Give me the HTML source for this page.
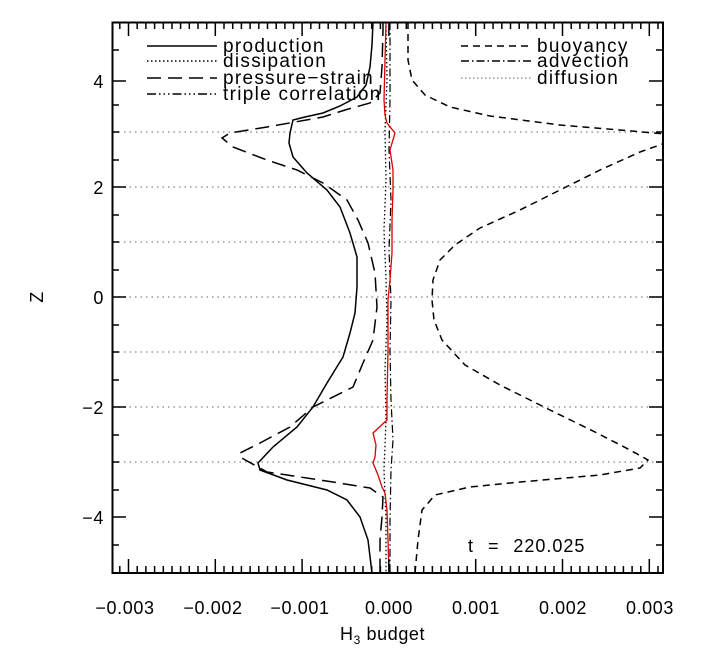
<!DOCTYPE html>
<html><head><meta charset="utf-8"><style>
body{margin:0;background:#fff}
svg{display:block;font-family:"Liberation Sans",sans-serif}
</style></head><body>
<svg width="722" height="649" viewBox="0 0 722 649" xmlns="http://www.w3.org/2000/svg">
<defs><clipPath id="c"><rect x="112" y="22" width="551" height="551"/></clipPath></defs>
<g stroke="#999" stroke-width="1.5" stroke-dasharray="1.5,4">
<line x1="113" x2="662" y1="132" y2="132"/><line x1="113" x2="662" y1="187" y2="187"/>
<line x1="113" x2="662" y1="242" y2="242"/><line x1="113" x2="662" y1="297" y2="297"/>
<line x1="113" x2="662" y1="352" y2="352"/><line x1="113" x2="662" y1="407" y2="407"/>
<line x1="113" x2="662" y1="462" y2="462"/>
</g>
<g clip-path="url(#c)" fill="none" stroke="#000" stroke-width="1.5">
<polyline points="373,22 372,45 370,67 366,85 357,97 340,106 323,113 305,117 293,120 290,133 289,143 293,157 307,173 327,190 340,207 350,233 357,257 357,287 355,313 350,333 343,357 327,383 313,407 297,427 273,447 258,463 260,470 287,480 327,490 347,500 360,517 368,540 372,573"/>
<polyline stroke-dasharray="14,7" points="383,22 383,30 382,67 380,93 370,103 345,110 323,117 295,122 267,127 230,133 222,138 233,147 267,160 297,170 323,183 347,200 358,220 368,243 375,273 377,307 373,340 363,363 353,387 327,400 313,407 290,427 260,443 240,453 240,457 267,472 333,482 370,488 383,497 382,517 380,540 380,573"/>
<polyline stroke-dasharray="7,5" points="408,22 408,60 412,80 425,95 450,107 490,116 560,125 620,130 665,134"/>
<polyline stroke-dasharray="7,5" points="668,142 640,152 600,170 560,190 520,210 480,228 455,245 440,260 433,280 432,300 434,320 442,340 465,365 500,385 550,410 595,432 630,450 648,460 640,468 600,475 520,482 470,487 435,495 422,510 418,540 415,573"/>
<polyline stroke-width="1.3" stroke-dasharray="1.5,2.5" points="386,22 387,80 385,130 386,180 384,230 386,280 387,320 385,370 386,420 384,470 386,520 386,573"/>
<polyline stroke-width="1.2" stroke-dasharray="8,3,1.5,3" points="390,22 390,100 389,150 391,200 389,250 391,300 390,350 391,400 393,440 391,470 390,520 390,573"/>
<polyline stroke="#d00" stroke-width="1.3" points="386,22 385,60 384,100 385,115 387,123 395,133 390,150 393,170 393,190 392,220 392,253 390,280 388,300 388,350 387,400 387,420 373,433 376,445 375,457 373,463 378,475 382,487 385,493 387,510 388,540 389,573"/>
</g>
<rect x="112.5" y="22.5" width="550.5" height="550.5" fill="none" stroke="#000" stroke-width="2"/>
<g stroke="#000" stroke-width="1.5" id="ticks">
<path d="M128.5,573v-14M215.3,573v-14M302.1,573v-14M388.9,573v-14M475.7,573v-14M562.5,573v-14M649.3,573v-14
M128.5,22v14M215.3,22v14M302.1,22v14M388.9,22v14M475.7,22v14M562.5,22v14M649.3,22v14"/>
<path id="mb" d="M119.8,573v-7M137.2,573v-7M145.9,573v-7M154.6,573v-7M163.3,573v-7M172,573v-7M180.6,573v-7M189.3,573v-7M198,573v-7M206.7,573v-7M224,573v-7M232.7,573v-7M241.4,573v-7M250.1,573v-7M258.8,573v-7M267.5,573v-7M276.2,573v-7M284.9,573v-7M293.6,573v-7M310.8,573v-7M319.5,573v-7M328.2,573v-7M336.9,573v-7M345.6,573v-7M354.3,573v-7M363,573v-7M371.7,573v-7M380.4,573v-7M397.6,573v-7M406.3,573v-7M415,573v-7M423.7,573v-7M432.4,573v-7M441.1,573v-7M449.8,573v-7M458.5,573v-7M467.2,573v-7M484.4,573v-7M493.1,573v-7M501.8,573v-7M510.5,573v-7M519.2,573v-7M527.9,573v-7M536.6,573v-7M545.3,573v-7M554,573v-7M571.2,573v-7M579.9,573v-7M588.6,573v-7M597.3,573v-7M606,573v-7M614.7,573v-7M623.4,573v-7M632.1,573v-7M640.8,573v-7M658,573v-7"/>
<use href="#mb" transform="translate(0,595) scale(1,-1)"/>
<path d="M112,81h14M112,187h14M112,297h14M112,407h14M112,517h14M663,81h-14M663,187h-14M663,297h-14M663,407h-14M663,517h-14
M112,50h7M112,105h7M112,132h7M112,160h7M112,215h7M112,242h7M112,270h7M112,325h7M112,352h7M112,380h7M112,435h7M112,462h7M112,490h7M112,545h7
M663,50h-7M663,105h-7M663,132h-7M663,160h-7M663,215h-7M663,242h-7M663,270h-7M663,325h-7M663,352h-7M663,380h-7M663,435h-7M663,462h-7M663,490h-7M663,545h-7"/>
</g>
<g font-size="18" fill="#000" letter-spacing="0.6">
<g text-anchor="end"><text x="104" y="88">4</text><text x="104" y="194">2</text><text x="104" y="304">0</text><text x="104" y="414">−2</text><text x="104" y="524">−4</text></g>
<g text-anchor="middle"><text x="125" y="614">−0.003</text><text x="213" y="614">−0.002</text><text x="300" y="614">−0.001</text><text x="389" y="614">0.000</text><text x="476" y="614">0.001</text><text x="563" y="614">0.002</text><text x="650" y="614">0.003</text></g>
<text x="340" y="640">H<tspan font-size="12" dy="4">3</tspan><tspan dy="-4"> budget</tspan></text>
<text transform="translate(43,297) rotate(-90)" text-anchor="middle">Z</text>
<text x="468" y="552" textLength="117" lengthAdjust="spacing" word-spacing="8">t = 220.025</text>
</g>
<g font-size="19" fill="#000" letter-spacing="1.3">
<text x="223" y="52">production</text><text x="223" y="67">dissipation</text><text x="223" y="84">pressure−strain</text><text x="223" y="100">triple correlation</text>
<text x="537" y="52">buoyancy</text><text x="537" y="67">advection</text><text x="537" y="84">diffusion</text>
</g>
<g stroke="#000" stroke-width="1.5">
<line x1="147" x2="217" y1="46" y2="46"/>
<line x1="147" x2="217" y1="61" y2="61" stroke-dasharray="1.5,2.5"/>
<line x1="147" x2="217" y1="78" y2="78" stroke-dasharray="14,7"/>
<line x1="147" x2="217" y1="94" y2="94" stroke-dasharray="9,3,1.5,3,1.5,3,1.5,3"/>
<line x1="461" x2="531" y1="46" y2="46" stroke-dasharray="7,5"/>
<line x1="461" x2="531" y1="61" y2="61" stroke-dasharray="8,3,1.5,3"/>
<line x1="461" x2="531" y1="78" y2="78" stroke="#999" stroke-dasharray="1.5,2.5"/>
</g>
</svg>
</body></html>
